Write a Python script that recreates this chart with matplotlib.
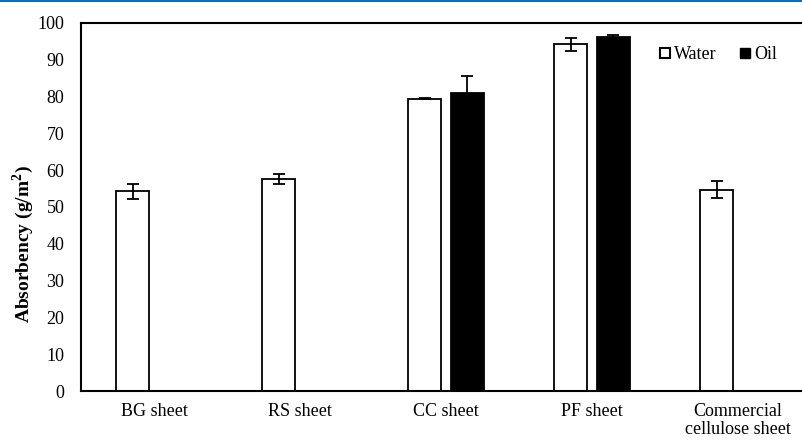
import matplotlib.pyplot as plt
from matplotlib.lines import Line2D
import numpy as np

plt.rcParams['font.family'] = ['Liberation Serif', 'DejaVu Serif']

categories = ['BG sheet', 'RS sheet', 'CC sheet', 'PF sheet', 'Commercial\ncellulose sheet']
water = [54.2, 57.5, 79.4, 94.1, 54.7]
water_err = [2.0, 1.4, 0.2, 1.7, 2.4]
# only CC and PF sheets were tested with oil
oil = [np.nan, np.nan, 80.8, 96.2, np.nan]
oil_err = [np.nan, np.nan, 4.7, 0.4, np.nan]

fig = plt.figure(figsize=(8.02, 4.42), dpi=100)
ax = fig.add_axes([81/802, 51/442, 730/802, 368.3/442])

x = np.arange(len(categories))
w = 0.226
off = 0.145

ax.bar(x - off, water, w, color='white', edgecolor='black', linewidth=1.3, label='Water')
ax.errorbar(x - off, water, yerr=water_err, fmt='none', ecolor='black', elinewidth=1.3, capsize=4.5, capthick=1.3)
ax.bar(x + off, oil, w, color='black', edgecolor='black', linewidth=1.3, label='Oil')
ax.errorbar(x + off, oil, yerr=oil_err, fmt='none', ecolor='black', elinewidth=1.3, capsize=4.5, capthick=1.3)

ax.set_xlim(-0.5, len(categories) - 0.5)
ax.set_ylim(0, 100)
ax.set_yticks(np.arange(0, 101, 10))
ax.set_xticks(x)
ax.set_xticklabels(categories, fontsize=13, linespacing=1.0)
ax.tick_params(axis='y', length=0, labelsize=13, pad=12)
ax.tick_params(axis='x', length=0, pad=9)
for s in ax.spines.values():
    s.set_linewidth(1.5)

ax.set_ylabel('Absorbency (g/m$^\\mathregular{2}$)', fontsize=14, fontweight='bold')
ax.yaxis.set_label_coords(-0.062, 0.40)

handles = [Line2D([], [], marker='s', linestyle='none', markerfacecolor='white', markeredgecolor='black', markersize=7, markeredgewidth=1.5),
           Line2D([], [], marker='s', linestyle='none', markerfacecolor='black', markeredgecolor='black', markersize=7)]
ax.legend(handles, ['Water', 'Oil'], loc='upper left', bbox_to_anchor=(0.77, 0.98), ncol=2, frameon=False,
          fontsize=13, handlelength=0.6, handletextpad=0.2, columnspacing=1.3)

fig.add_artist(Line2D([0, 1], [0.998, 0.998], transform=fig.transFigure, color='#0070c0', linewidth=1.5))

fig.savefig('out.png', dpi=100)
